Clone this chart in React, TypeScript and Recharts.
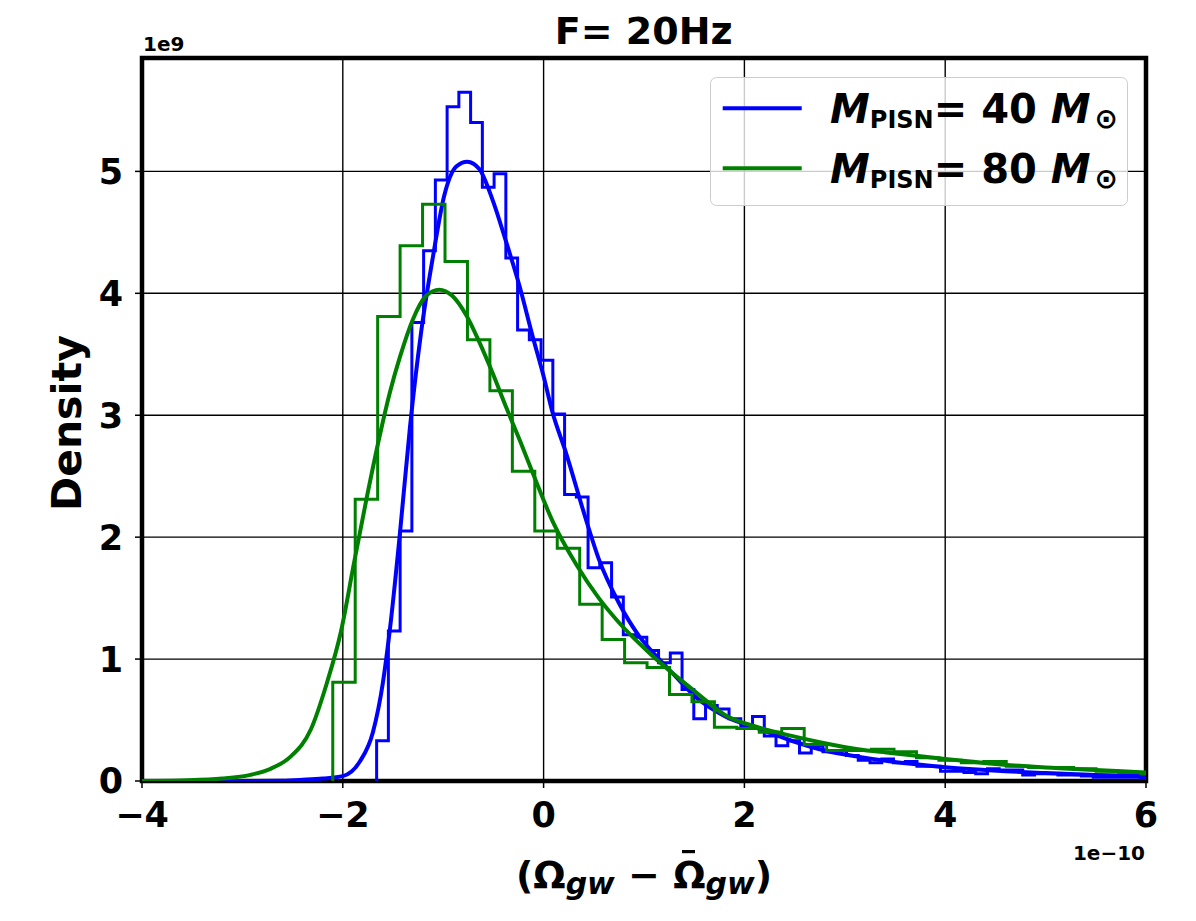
import React from 'react';
import {
  ComposedChart,
  Line,
  XAxis,
  YAxis,
  CartesianGrid,
  ReferenceArea,
  Legend,
} from 'recharts';

// histogram of M_PISN = 40 (blue), bins start at -1.663e-10
const BLUE_HIST_START = -1.663;
const BLUE_BIN_WIDTH = 0.117;
const blueHist = [
  0.33, 1.23, 2.05, 3.76, 4.35, 4.93, 5.53, 5.65, 5.4, 4.87, 4.98, 4.29, 3.7, 3.62, 3.45, 3.01,
  2.35, 2.33, 1.75, 1.79, 1.51, 1.2, 1.18, 1.07, 0.97, 1.05, 0.75, 0.51, 0.62, 0.59, 0.51, 0.45,
  0.53, 0.37, 0.29, 0.33, 0.23, 0.29, 0.24, 0.25, 0.21, 0.17, 0.15, 0.18, 0.15, 0.16, 0.12, 0.12,
  0.08, 0.08, 0.07, 0.06, 0.1, 0.09, 0.09, 0.05, 0.06, 0.06, 0.05, 0.05, 0.04, 0.03, 0.03, 0.03,
  0.03, 0.02,
];

// histogram of M_PISN = 80 (green)
const GREEN_HIST_START = -2.1;
const GREEN_BIN_WIDTH = 0.2236;
const greenHist = [
  0.81, 2.31, 3.81, 4.39, 4.73, 4.26, 3.62, 3.2, 2.54, 2.05, 1.91, 1.45, 1.16, 0.97, 0.93, 0.71,
  0.65, 0.44, 0.43, 0.4, 0.43, 0.3, 0.25, 0.25, 0.26, 0.24, 0.19, 0.17, 0.15, 0.16, 0.12, 0.11,
  0.11, 0.1, 0.08, 0.07, 0.06,
];

// fitted density curves
const blueCurveX = [
  -4, -3, -2.6, -2.4, -2.2, -2.0, -1.83, -1.7, -1.6, -1.53, -1.43, -1.33, -1.22, -1.1, -0.99, -0.87,
  -0.76, -0.64, -0.51, -0.38, -0.24, -0.11, 0.0, 0.09, 0.22, 0.42, 0.55, 0.75, 0.95, 1.15, 1.3, 1.5,
  1.81, 2.14, 2.47, 2.8, 3.13, 3.46, 3.8, 4.2, 4.6, 5.0, 5.5, 6.0,
];
const blueCurveY = [
  0, 0, 0.003, 0.01, 0.02, 0.04, 0.16, 0.4, 0.81, 1.25, 2.04, 2.91, 3.68, 4.31, 4.8, 5.04,
  5.08, 5.02, 4.77, 4.44, 4.06, 3.65, 3.32, 3.02, 2.7, 2.15, 1.82, 1.46, 1.19, 1.0, 0.87, 0.7,
  0.53, 0.43, 0.33, 0.25, 0.2, 0.16, 0.13, 0.1, 0.08, 0.065, 0.05, 0.04,
];
const greenCurveX = [
  -4, -3.6, -3.2, -2.92, -2.72, -2.52, -2.32, -2.16, -2.02, -1.89, -1.76, -1.63, -1.53, -1.43,
  -1.3, -1.17, -1.04, -0.91, -0.77, -0.64, -0.51, -0.38, -0.23, -0.11, 0.09, 0.33, 0.55, 0.75,
  1.08, 1.35, 1.5, 1.81, 2.14, 2.47, 2.8, 3.13, 3.46, 4.0, 4.5, 5.0, 5.5, 6.0,
];
const greenCurveY = [
  0, 0.005, 0.02, 0.05, 0.1, 0.2, 0.42, 0.8, 1.22, 1.78, 2.33, 2.84, 3.19, 3.48,
  3.79, 3.98, 4.03, 3.98, 3.82, 3.6, 3.35, 3.08, 2.78, 2.53, 2.13, 1.77, 1.5, 1.3,
  1.03, 0.84, 0.74, 0.54, 0.44, 0.37, 0.31, 0.26, 0.23, 0.18, 0.14, 0.11, 0.09, 0.07,
];

const xTicks = [-4, -2, 0, 2, 4, 6];
const yTicks = [0, 1, 2, 3, 4, 5];

const legendItems = [
  { color: '#0000ff', mass: '40' },
  { color: '#008000', mass: '80' },
];

const FONT = "'DejaVu Sans', sans-serif";

function histSteps(start: number, width: number, values: number[]) {
  const pts = [{ x: start, y: 0 }];
  values.forEach((v, i) => pts.push({ x: start + i * width, y: v }));
  const end = start + values.length * width;
  pts.push({ x: end, y: values[values.length - 1] });
  pts.push({ x: end, y: 0 });
  return pts;
}

const zip = (xs: number[], ys: number[]) => xs.map((x, i) => ({ x, y: ys[i] }));

const blueHistData = histSteps(BLUE_HIST_START, BLUE_BIN_WIDTH, blueHist);
const greenHistData = histSteps(GREEN_HIST_START, GREEN_BIN_WIDTH, greenHist);
const blueCurveData = zip(blueCurveX, blueCurveY);
const greenCurveData = zip(greenCurveX, greenCurveY);

const fmt = (v: number) => (v < 0 ? `\u2212${-v}` : `${v}`);

function LegendBox() {
  return (
    <svg width={418} height={129} style={{ display: 'block', fontFamily: FONT }}>
      <rect x={0.5} y={0.5} width={417} height={128} rx={6} fill="#fff" fillOpacity={0.8} stroke="#cccccc" />
      {legendItems.map((item, i) => {
        const cy = 31.3 + i * 60;
        return (
          <g key={item.mass}>
            <line x1={12.7} x2={91.7} y1={cy} y2={cy} stroke={item.color} strokeWidth={4} />
            <text x={120} y={cy + 14.4} fontSize={40} fontWeight="bold" fill="#000">
              <tspan fontStyle="italic">M</tspan>
              <tspan fontSize={24} dy={5.6}>PISN</tspan>
              <tspan dy={-5.6}>{`= ${item.mass} `}</tspan>
              <tspan fontStyle="italic">M</tspan>
              <tspan fontSize={28} dx={4} dy={5}>{'\u2299'}</tspan>
            </text>
          </g>
        );
      })}
    </svg>
  );
}

export default function App() {
  const W = 1180;
  const H = 905;
  return (
    <div style={{ position: 'relative', width: W, height: H, fontFamily: FONT }}>
      <ComposedChart width={W} height={H} margin={{ top: 50, right: 42, bottom: 72, left: 0 }}>
        <CartesianGrid stroke="#000" strokeWidth={1.4} strokeOpacity={1} />
        <XAxis
          dataKey="x"
          type="number"
          domain={[-4, 6]}
          ticks={xTicks}
          allowDataOverflow
          height={60}
          tickFormatter={fmt}
          axisLine={false}
          tickLine={{ stroke: '#000', strokeWidth: 1.5 }}
          tickSize={7}
          tickMargin={14}
          tick={{ fill: '#000', fontSize: 35, fontWeight: 'bold', fontFamily: FONT }}
        />
        <YAxis
          type="number"
          domain={[0, 5.93]}
          ticks={yTicks}
          allowDataOverflow
          width={134}
          tickFormatter={fmt}
          axisLine={false}
          tickLine={{ stroke: '#000', strokeWidth: 1.5 }}
          tickSize={7}
          tickMargin={12}
          tick={{ fill: '#000', fontSize: 35, fontWeight: 'bold', fontFamily: FONT }}
        />
        <Line data={blueHistData} dataKey="y" type="stepAfter" stroke="#0000ff" strokeWidth={3}
          dot={false} activeDot={false} isAnimationActive={false} legendType="none" />
        <Line data={blueCurveData} dataKey="y" type="monotone" stroke="#0000ff" strokeWidth={4}
          dot={false} activeDot={false} isAnimationActive={false} />
        <Line data={greenHistData} dataKey="y" type="stepAfter" stroke="#008000" strokeWidth={3}
          dot={false} activeDot={false} isAnimationActive={false} legendType="none" />
        <Line data={greenCurveData} dataKey="y" type="monotone" stroke="#008000" strokeWidth={4}
          dot={false} activeDot={false} isAnimationActive={false} />
        <ReferenceArea x1={-4} x2={6} y1={0} y2={5.93} fill="none" stroke="#000" strokeWidth={4.5} ifOverflow="visible" />
        <Legend
          layout="vertical"
          align="center"
          verticalAlign="middle"
          content={() => <LegendBox />}
          wrapperStyle={{ left: 702, top: 69, width: 418, height: 129 }}
        />
      </ComposedChart>
      <svg
        width={W}
        height={H}
        style={{ position: 'absolute', left: 0, top: 0, pointerEvents: 'none', fontFamily: FONT }}
      >
        <text x={635.7} y={36} textAnchor="middle" fontSize={38} fontWeight="bold" fill="#000">
          F= 20Hz
        </text>
        <text x={135} y={42.7} fontSize={20} fontWeight="bold" fill="#000">
          1e9
        </text>
        <text x={1137} y={852} textAnchor="end" fontSize={20} fontWeight="bold" fill="#000">
          1e{'\u2212'}10
        </text>
        <text
          x={73}
          y={415}
          transform="rotate(-90 73 415)"
          textAnchor="middle"
          fontSize={41}
          fontWeight="bold"
          fill="#000"
        >
          Density
        </text>
        <text x={636} y={880} textAnchor="middle" fontSize={38} fontWeight="bold" fill="#000">
          <tspan>(Ω</tspan>
          <tspan fontStyle="italic" fontSize={30} dy={6}>gw</tspan>
          <tspan dy={-6}>{' \u2212 Ω'}</tspan>
          <tspan fontStyle="italic" fontSize={30} dy={6}>gw</tspan>
          <tspan dy={-6}>)</tspan>
        </text>
        {/* bar over the second Omega */}
        <rect x={674} y={842} width={13} height={3.2} fill="#000" />
      </svg>
    </div>
  );
}
